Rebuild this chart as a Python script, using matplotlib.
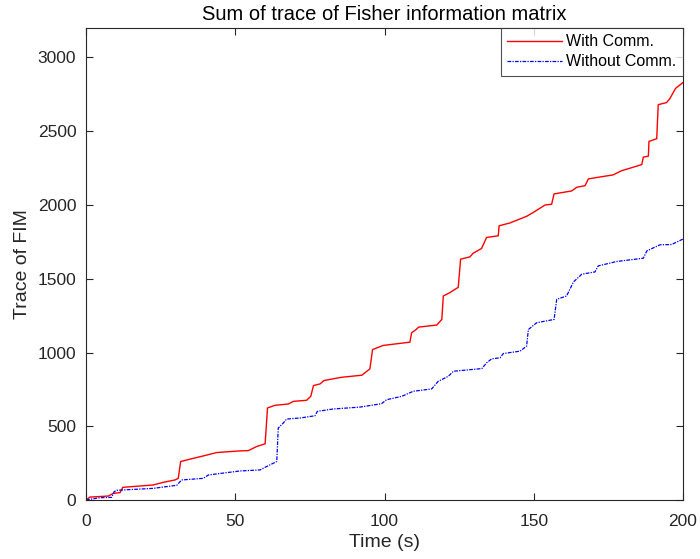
import matplotlib
matplotlib.use('Agg')
import matplotlib.pyplot as plt
import numpy as np

plt.rcParams['font.family'] = ['Liberation Sans', 'DejaVu Sans']

# Trace of FIM, cooperative case (time in s, trace value)
t_comm = [0, 1.3, 7.5, 9.1, 11.4, 12.3, 22.5, 25.9, 29.8, 30.9, 31.7, 34.8, 39.3,
          43.8, 51.6, 54.4, 57.2, 60.0, 60.8, 63.3, 67.8, 69.5, 73.9, 75.3, 76.2,
          78.4, 79.7, 85.6, 92.4, 95.1, 96.0, 99.6, 108.5, 109.1, 110.6, 111.4,
          117.5, 119.2, 119.7, 121.9, 124.7, 125.5, 128.6, 129.7, 132.5, 134.2,
          138.1, 138.4, 142.0, 147.6, 149.9, 153.8, 156.0, 156.8, 162.7, 164.4,
          167.2, 168.3, 176.6, 179.5, 182.2, 186.2, 186.7, 188.4, 188.6, 191.2,
          191.7, 194.5, 195.6, 197.5, 200]
y_comm = [0, 20, 27, 45, 50, 86, 102, 120, 136, 147, 261, 277, 299,
          322, 333, 335, 363, 381, 624, 642, 651, 669, 676, 703, 776,
          787, 810, 832, 846, 889, 1020, 1048, 1070, 1134, 1156, 1172,
          1186, 1224, 1383, 1406, 1442, 1633, 1648, 1673, 1705, 1780,
          1791, 1859, 1878, 1923, 1950, 2000, 2005, 2075, 2095, 2120,
          2131, 2177, 2204, 2233, 2249, 2274, 2324, 2331, 2431, 2449,
          2680, 2694, 2721, 2790, 2830]

# Trace of FIM, no communication
t_nocomm = [0, 4.7, 8.6, 9.4, 10.3, 22.5, 30.4, 32.0, 39.3, 41.0, 51.6, 58.3, 60.0,
            63.9, 64.4, 66.1, 67.2, 71.7, 76.7, 77.5, 82.8, 91.8, 99.0, 100.7,
            105.8, 109.6, 115.8, 118.0, 121.4, 123.1, 132.6, 134.2, 135.9, 138.7,
            139.8, 145.4, 147.6, 148.2, 151.0, 156.8, 157.7, 161.0, 163.3, 166.1,
            170.5, 171.6, 177.8, 186.7, 187.9, 192.3, 196.2, 200]
y_nocomm = [0, 16, 18, 56, 66, 79, 100, 136, 147, 170, 197, 204, 222,
            261, 488, 522, 549, 556, 571, 601, 617, 630, 653, 680,
            703, 737, 753, 805, 839, 873, 891, 930, 957, 964,
            993, 1009, 1043, 1156, 1202, 1224, 1361, 1383, 1478, 1531,
            1546, 1587, 1617, 1639, 1689, 1730, 1732, 1769]

fig = plt.figure(figsize=(7.0, 5.59), dpi=100)
ax = fig.add_axes([0.1229, 0.1055, 0.8528, 0.8445])

ax.plot(t_comm, y_comm, '-', color='#ff0000', linewidth=1.0, label='With Comm.')
ax.plot(t_nocomm, y_nocomm, color='#0000ff', linewidth=0.9,
        linestyle=(0, (3, 1, 1, 1)), label='Without Comm.')

ax.set_xlim(0, 200)
ax.set_ylim(0, 3200)
ax.set_xticks([0, 50, 100, 150, 200])
ax.set_yticks([0, 500, 1000, 1500, 2000, 2500, 3000])

dark = '#262626'
for s in ax.spines.values():
    s.set_color(dark)
    s.set_linewidth(0.8)
ax.tick_params(direction='in', top=True, right=True, length=5, width=0.8,
               colors=dark, labelsize=12.5)
ax.tick_params(axis='x', pad=10)
ax.tick_params(axis='y', pad=7)

ax.set_title('Sum of trace of Fisher information matrix', fontsize=14.5, color='black', pad=6)
ax.set_xlabel('Time (s)', fontsize=14, color=dark, labelpad=4)
ax.set_ylabel('Trace of FIM', fontsize=14, color=dark, labelpad=5)

leg = ax.legend(loc='upper right', fontsize=11.5, frameon=True, fancybox=False,
                borderaxespad=0, handlelength=3.4, handletextpad=0.3,
                borderpad=0.4, labelspacing=0.3)
leg.get_frame().set_edgecolor(dark)
leg.get_frame().set_linewidth(0.8)

fig.savefig('out.png', dpi=100)
